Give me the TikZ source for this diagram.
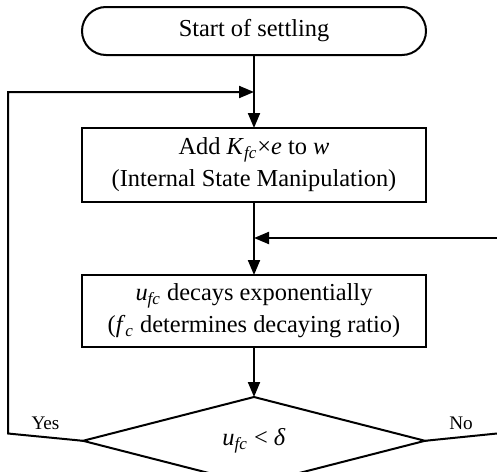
\documentclass[tikz,border=0pt]{standalone}
\usepackage{fontspec}
\setmainfont{Liberation Serif}
\usetikzlibrary{positioning,shapes.geometric,arrows.meta}

\begin{document}
\begin{tikzpicture}[x=0.5pt,y=-0.5pt,line width=1pt,
  every node/.style={font=\fontsize{12.2}{16}\selectfont},
  >={Triangle[length=7.5pt,width=6pt]},
  term/.style={draw,rounded corners=12pt,minimum width=172pt,minimum height=24pt,outer sep=0pt},
  proc/.style={draw,minimum width=172pt,minimum height=37pt,align=center,inner sep=0pt,outer sep=0pt},
  decide/.style={draw,diamond,minimum width=171pt,minimum height=36.5pt,inner sep=0pt,outer sep=0pt},
  lbl/.style={font=\fontsize{9.6}{11}\selectfont}]
  \useasboundingbox (0,0) rectangle (497,471);
  \node[term] (start) at (254,31) {Start of settling};
  \node[proc,below=36.5pt of start] (add)
    {Add \textit{K}\textsubscript{\textit{fc}}×\textit{e} to \textit{w}\\(Internal State Manipulation)};
  \node[proc,minimum height=36pt,below=36.5pt of add] (decay)
    {\textit{u}\textsubscript{\textit{fc}} decays exponentially\\(\textit{f}\textsubscript{\textit{c}} determines decaying ratio)};
  \node[decide,below=25pt of decay] (check) {\textit{u}\textsubscript{\textit{fc}} < \textit{δ}};
  % loop and feed points
  \coordinate (yesturn) at (8,433.5);
  \coordinate (loopin) at (254,92);
  \coordinate (noend) at (497,433.5);
  \coordinate (feedin) at (497,238);
  \coordinate (feedhit) at (254,238);
  \draw[->] (start) -- (add);
  \draw[->] (add) -- (decay);
  \draw[->] (decay) -- (check);
  \draw[->] (check.west) -- node[lbl,above]{Yes} (yesturn) |- (loopin);
  \draw (check.east) -- node[lbl,above]{No} (noend);
  \draw[->] (feedin) -- (feedhit);
\end{tikzpicture}
\end{document}
